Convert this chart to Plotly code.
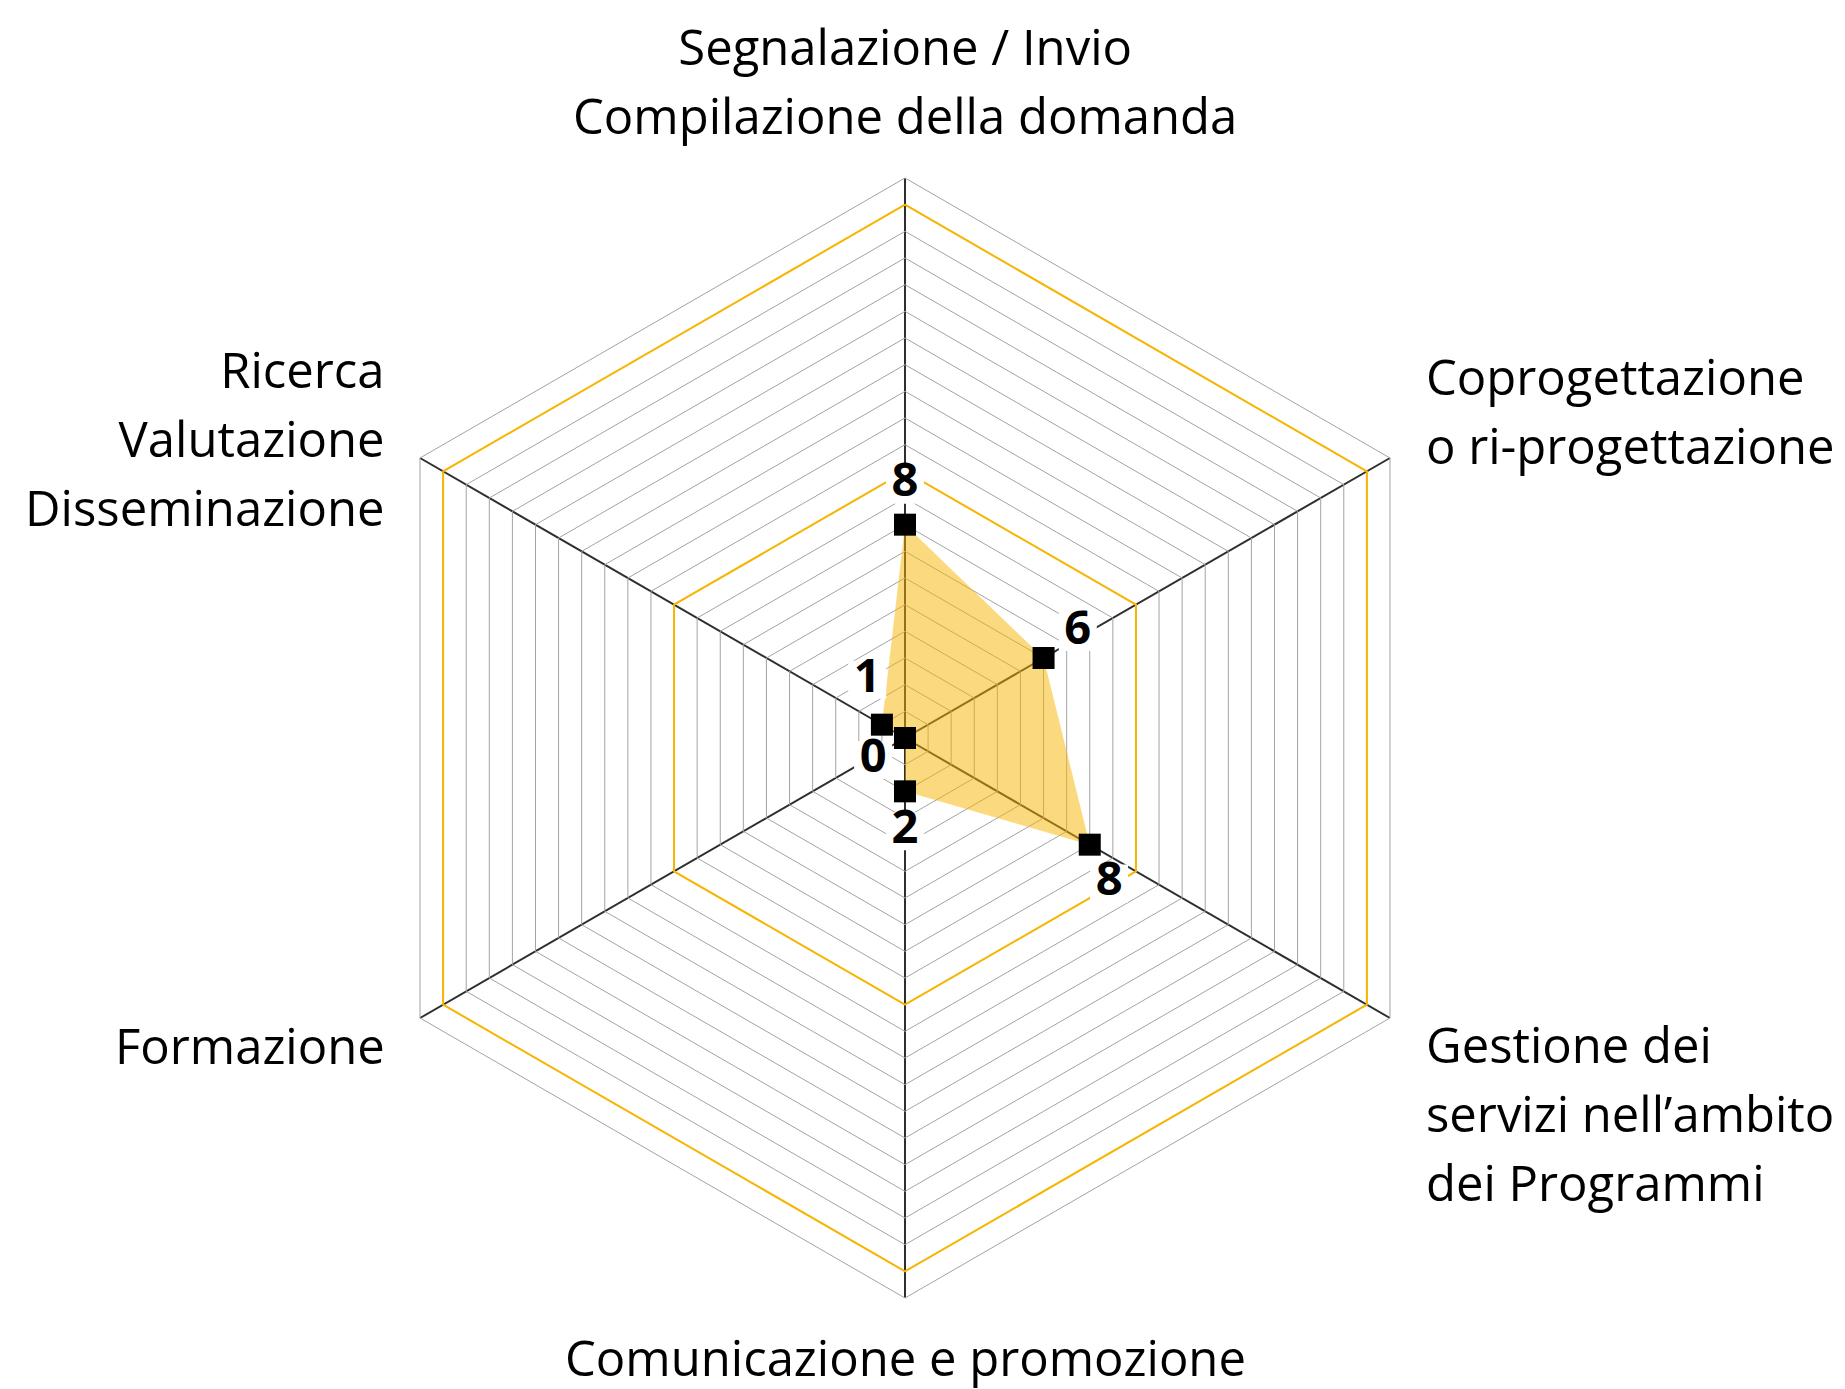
import plotly.graph_objects as go
import numpy as np

# Axis categories (clockwise from top) and their scores
categories = [
    "Segnalazione / Invio<br>Compilazione della domanda",
    "Coprogettazione<br>o ri-progettazione",
    "Gestione dei<br>servizi nell’ambito<br>dei Programmi",
    "Comunicazione e promozione",
    "Formazione",
    "Ricerca<br>Valutazione<br>Disseminazione",
]
values = [8, 6, 8, 2, 0, 1]
r_max = 21
highlight_rings = [10, 20]

# label placement relative to each point (style only)
label_dr = [1.5, 1.6, 1.4, 1.5, 1.45, 1.6]
label_dtheta = [0, -1.5, 5.5, 0, -4.5, 27]

W, H = 1845, 1389
cx, cy, R = 905, 738, 560
AMBER = "#f7b500"
FONT = "Open Sans"

n = len(categories)
angles = [360 / n * i for i in range(n)]
closed_cats = categories + [categories[0]]

fig = go.Figure()

# amber reference rings
for ring in highlight_rings:
    fig.add_trace(go.Scatterpolar(
        r=[ring] * (n + 1), theta=closed_cats,
        mode="lines", line=dict(color=AMBER, width=2),
        hoverinfo="skip", showlegend=False))

# filled area
fig.add_trace(go.Scatterpolar(
    r=values + [values[0]], theta=closed_cats,
    mode="lines", fill="toself", fillcolor="rgba(247,181,0,0.5)",
    line=dict(width=0, color="rgba(0,0,0,0)"),
    hoverinfo="skip", showlegend=False))

# value labels with white box behind (overlay polar with numeric angles)
lab_r = [v + d for v, d in zip(values, label_dr)]
lab_t = [a + d for a, d in zip(angles, label_dtheta)]
fig.add_trace(go.Scatterpolar(
    r=lab_r, theta=lab_t, mode="markers+text", subplot="polar2",
    text=[str(v) for v in values], textposition="middle center",
    textfont=dict(family=FONT, size=47, color="black", weight="bold"),
    marker=dict(symbol="square", size=38, color="white"),
    hoverinfo="skip", showlegend=False))

# point markers
fig.add_trace(go.Scatterpolar(
    r=values, theta=angles, mode="markers", subplot="polar2",
    marker=dict(symbol="square", size=22, color="black"),
    showlegend=False))

# category labels around the hexagon
pad = [98, 48, -95, -59, -27, 20]
for ang, txt, p in zip(angles, categories, pad):
    rad = np.deg2rad(90 - ang)
    vx = cx + R * np.cos(rad)
    vy = cy - R * np.sin(rad)
    c = np.cos(rad)
    if abs(c) < 0.1:
        xanchor, align, x = "center", "center", vx
    elif c > 0:
        xanchor, align, x = "left", "left", vx + 34
    else:
        xanchor, align, x = "right", "right", vx - 33
    lines = "<br>".join('<span style="font-size:49px">%s</span>' % s for s in txt.split("<br>"))
    fig.add_annotation(
        x=x / W, y=1 - (vy - p) / H, xref="paper", yref="paper",
        xanchor=xanchor, yanchor="middle", align=align, showarrow=False,
        text=lines, font=dict(family=FONT, size=53, color="black"))

domain = dict(x=[(cx - R) / W, (cx + R) / W], y=[(H - cy - R) / H, (H - cy + R) / H])
fig.update_layout(
    width=W, height=H,
    margin=dict(l=0, r=0, t=0, b=0),
    paper_bgcolor="white",
    polar=dict(
        domain=domain,
        gridshape="linear",
        bgcolor="white",
        radialaxis=dict(range=[0, r_max], dtick=1, showticklabels=False, ticks="",
                        showline=False, gridcolor="#a3a3a3", gridwidth=1),
        angularaxis=dict(type="category", showticklabels=False, ticks="",
                         rotation=90, direction="clockwise",
                         gridcolor="#2e2e2e", gridwidth=1.5,
                         showline=True, linecolor="#a3a3a3", linewidth=1),
    ),
    polar2=dict(
        domain=domain,
        bgcolor="rgba(0,0,0,0)",
        radialaxis=dict(range=[0, r_max], visible=False),
        angularaxis=dict(rotation=90, direction="clockwise", visible=False,
                         showgrid=False, showline=False),
    ),
)

fig.write_html("out.html", config={"displayModeBar": False},
               post_script="document.body.style.margin='0px';")
